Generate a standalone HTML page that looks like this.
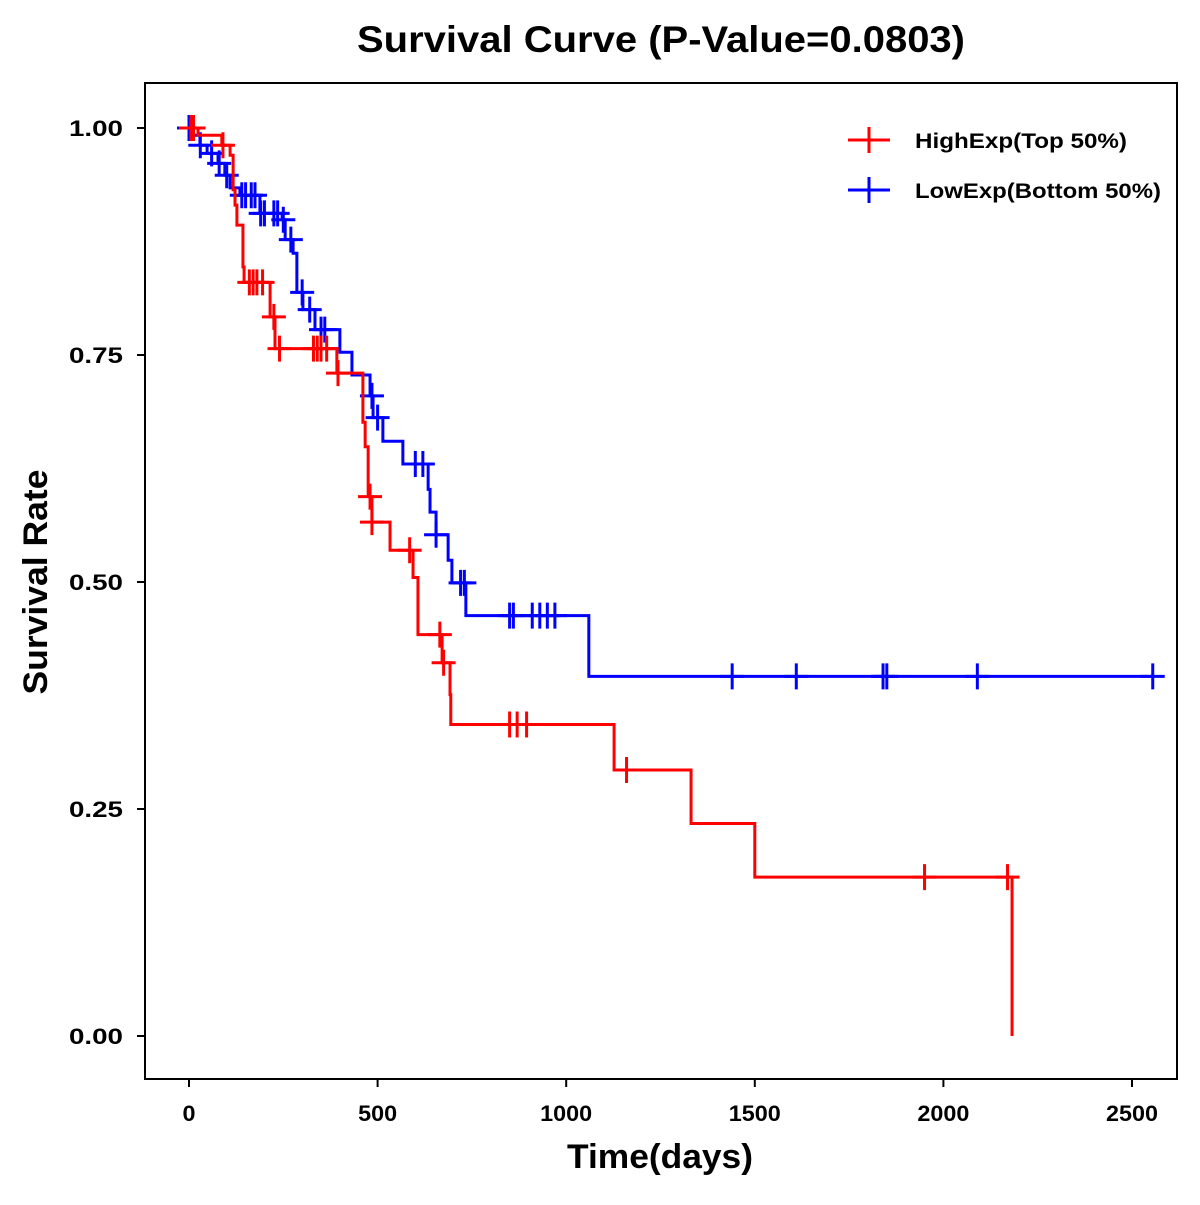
<!DOCTYPE html>
<html><head><meta charset="utf-8"><style>
body{margin:0;background:#fff}
svg text{font-family:"Liberation Sans",Arial,sans-serif;font-weight:bold}
</style></head><body>
<svg id="chart" width="1200" height="1200" xmlns="http://www.w3.org/2000/svg">
<rect width="1200" height="1200" fill="#fff"/>
<text x="661" y="52" font-size="37" text-anchor="middle" textLength="608" lengthAdjust="spacingAndGlyphs">Survival Curve (P-Value=0.0803)</text>
<rect x="145" y="83" width="1032" height="996" fill="none" stroke="#000" stroke-width="2"/>
<g id="axes"></g>
<g id="series"></g>
<text x="660" y="1168" font-size="34" text-anchor="middle" textLength="186" lengthAdjust="spacingAndGlyphs">Time(days)</text>
<text transform="translate(47,582) rotate(-90)" font-size="34" text-anchor="middle" textLength="225" lengthAdjust="spacingAndGlyphs">Survival Rate</text>
<g>
<g>
<line x1="848" y1="140" x2="890" y2="140" stroke="#f00" stroke-width="3"/><line x1="869" y1="127" x2="869" y2="153" stroke="#f00" stroke-width="3"/>
<text x="915" y="148" font-size="21" textLength="212" lengthAdjust="spacingAndGlyphs">HighExp(Top 50%)</text></g>
<g>
<line x1="848" y1="190" x2="890" y2="190" stroke="#00f" stroke-width="3"/><line x1="869" y1="177" x2="869" y2="203" stroke="#00f" stroke-width="3"/>
<text x="915" y="198" font-size="21" textLength="246" lengthAdjust="spacingAndGlyphs">LowExp(Bottom 50%)</text></g>
</g>
</svg>
<script>
const xTicks=[0,500,1000,1500,2000,2500];
const yTicks=[0,0.25,0.5,0.75,1.0];
const yTickLabels=["0.00","0.25","0.50","0.75","1.00"];
const highTimes=[0,24,87,109,117,122,127,143,146,215,228,392,461,467,475,485,533,594,607,671,692,694,1127,1331,1500,2182];
const highSurv=[1,0.992,0.981,0.970,0.932,0.915,0.893,0.847,0.830,0.792,0.757,0.730,0.676,0.649,0.594,0.566,0.535,0.505,0.442,0.411,0.376,0.343,0.293,0.234,0.175,0];
const highEnd=2182;
const highCensor=[5,12,90,160,170,180,195,225,240,330,340,350,365,395,480,485,585,665,675,850,870,895,1160,1950,2170];
const lowTimes=[0,11,29,48,77,95,109,135,188,247,255,276,286,302,334,400,432,480,488,514,567,634,639,655,687,697,734,1060];
const lowSurv=[1,0.992,0.981,0.972,0.961,0.948,0.934,0.926,0.906,0.899,0.877,0.862,0.819,0.800,0.778,0.753,0.728,0.705,0.681,0.655,0.630,0.602,0.577,0.552,0.524,0.499,0.463,0.396];
const lowEnd=2561;
const lowCensor=[0,5,10,30,60,80,100,140,150,165,175,190,200,225,235,250,270,300,320,350,360,485,500,600,620,655,720,730,850,860,910,930,950,970,1440,1610,1840,1850,2090,2555];

const xs=t=>189+t*0.3772;
const ys=s=>1036-s*908;
const NS="http://www.w3.org/2000/svg";
const axes=document.getElementById('axes'), ser=document.getElementById('series');
function mk(tag,attrs,parent){const e=document.createElementNS(NS,tag);for(const k in attrs)e.setAttribute(k,attrs[k]);parent.appendChild(e);return e;}
xTicks.forEach(t=>{
  const l=mk('line',{x1:xs(t),x2:xs(t),y1:1079,y2:1087,stroke:'#000','stroke-width':2},axes);
  
  
  const s=String(t);
  const tx=mk('text',{x:xs(t),y:1121,'font-size':22,'text-anchor':'middle',textLength:s.length*13,lengthAdjust:'spacingAndGlyphs'},axes);tx.textContent=s;
  
  
});
yTicks.forEach((v,i)=>{
  const l=mk('line',{x1:137,x2:145,y1:ys(v),y2:ys(v),stroke:'#000','stroke-width':2},axes);
  
  
  const tx=mk('text',{x:123,y:ys(v)+8,'font-size':22,'text-anchor':'end',textLength:54,lengthAdjust:'spacingAndGlyphs'},axes);tx.textContent=yTickLabels[i];
  
  
});
function survAt(times,surv,t){let s=surv[0];for(let i=0;i<times.length;i++){if(times[i]<=t)s=surv[i];}return s;}
function draw(times,surv,end,cens,color,name){
  let d='M'+xs(times[0])+','+ys(surv[0]);
  for(let i=1;i<times.length;i++){d+=' H'+xs(times[i])+' V'+ys(surv[i]);}
  d+=' H'+xs(end);
  const p=mk('path',{d:d,fill:'none',stroke:color,'stroke-width':3},ser);
  
  
  cens.forEach(t=>{
    const x=xs(t),y=ys(survAt(times,surv,t));
    const g=mk('path',{d:`M${x-12},${y} H${x+12} M${x},${y-13} V${y+13}`,stroke:color,'stroke-width':3,fill:'none'},ser);
    
    
  });
}
draw(lowTimes,lowSurv,lowEnd,lowCensor,'#00f','low-exp');
draw(highTimes,highSurv,highEnd,highCensor,'#f00','high-exp');
</script>
</body></html>
